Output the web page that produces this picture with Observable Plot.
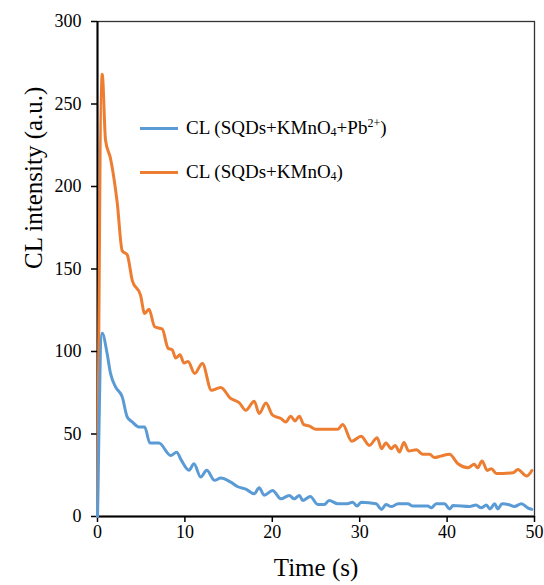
<!DOCTYPE html>
<html>
<head>
<meta charset="utf-8">
<script src="https://cdn.jsdelivr.net/npm/d3@7"></script>
<script src="https://cdn.jsdelivr.net/npm/@observablehq/plot@0.6"></script>
<style>
  html, body { margin: 0; padding: 0; background: #fff; }
  #wrap { position: relative; width: 544px; height: 585px; font-family: "Liberation Serif", "Times New Roman", serif; }
  #wrap svg, #wrap svg text { font-family: "Liberation Serif", "Times New Roman", serif !important; }
  .leg { position: absolute; left: 140px; display: flex; align-items: center; font-size: 19px; color: #000; white-space: nowrap; }
  .leg .sw { width: 38px; height: 3px; margin-right: 8px; }
  .leg sub, .leg sup { font-size: 12px; }
  .leg sub { vertical-align: -2px; }
  .leg sup { vertical-align: 7px; }
</style>
</head>
<body>
<div id="wrap"></div>
<script>
const xTicks = [0, 10, 20, 30, 40, 50];
const yTicks = [0, 50, 100, 150, 200, 250, 300];

const seriesNames = ["CL (SQDs+KMnO4+Pb2+)", "CL (SQDs+KMnO4)"];
const seriesColors = ["#5B9BD5", "#ED7D31"];

const timeBlue = [0, 0.54, 1.1, 1.49, 2.06, 2.83, 3.4, 3.98, 4.74, 5.39, 6.0, 7.03, 8.37, 9.06, 9.6, 10.47, 11.04, 11.8, 12.5, 13.4, 14.1, 15.25, 16.0, 16.97, 17.93, 18.5, 19.07, 20.03, 20.99, 21.94, 22.5, 23.1, 23.47, 24.35, 25.2, 25.95, 26.5, 27.5, 28.6, 29.2, 29.7, 30.16, 31.88, 32.5, 33.0, 33.6, 34.4, 35.5, 36.1, 37.8, 38.2, 38.76, 39.7, 40.3, 40.67, 42.6, 43.3, 43.9, 44.5, 44.9, 45.45, 45.8, 46.3, 47.1, 47.7, 48.5, 49.3, 49.7];
const valueBlue = [0, 111, 98.8, 86.7, 78.6, 72.5, 60.3, 57.3, 54.3, 54.3, 44.5, 44.5, 37, 39, 34, 28, 32, 23.9, 28, 21.9, 23.3, 20.8, 18.2, 16.6, 13.8, 17.4, 12.9, 15.8, 10.7, 12.8, 10.7, 12.8, 9.7, 12.1, 7.3, 7.3, 9.7, 7.7, 7.7, 8.7, 6.3, 8.7, 7.7, 4.3, 7.3, 6.0, 7.7, 7.7, 6.3, 6.3, 5.3, 7.7, 7.7, 4.6, 6.7, 6.1, 6.9, 5.3, 6.9, 4.6, 7.7, 4.6, 7.7, 7.1, 6.1, 7.7, 5.0, 4.3];

const timeOrange = [0, 0.54, 0.92, 1.49, 2.26, 2.83, 3.4, 3.98, 4.93, 5.39, 5.89, 6.54, 7.41, 8.07, 8.56, 8.94, 9.44, 9.9, 10.36, 11.12, 12.0, 13.03, 14.1, 15.25, 15.63, 16.2, 16.97, 17.93, 18.5, 19.27, 20.03, 20.99, 21.56, 22.1, 22.6, 23.09, 23.6, 24.2, 25.0, 27.5, 28.05, 29.1, 30.16, 31.1, 32.0, 32.5, 33.0, 33.6, 34.06, 34.55, 35.06, 35.6, 36.5, 37.2, 38.0, 38.56, 39.25, 40.28, 41.24, 42.4, 43.1, 43.5, 44.0, 44.6, 45.07, 45.64, 47.55, 48.1, 49.1, 49.7];
const valueOrange = [0, 268, 228, 217, 190, 161, 158.6, 143, 134, 123, 125.6, 115, 113.6, 102, 101, 96, 98, 93, 94, 86.7, 92.8, 76.5, 78.2, 71.5, 70.5, 69, 64.4, 69.9, 62.4, 68.8, 61.4, 59.4, 57.3, 60.8, 57.9, 60.8, 55.7, 54.9, 52.9, 52.9, 55.7, 45.6, 48.6, 43.1, 47.8, 41.1, 44.6, 41.1, 43.1, 39.1, 44.8, 39.7, 40.5, 37.7, 37.7, 35.7, 36.6, 37.7, 32.0, 29.6, 31.6, 29.6, 33.6, 27.9, 29.0, 26.0, 26.5, 28.5, 24.5, 27.9];

const blue = timeBlue.map((t, i) => ({t, v: valueBlue[i]}));
const orange = timeOrange.map((t, i) => ({t, v: valueOrange[i]}));

const serif = "Liberation Serif";

const chart = Plot.plot({
  width: 544,
  height: 585,
  marginLeft: 97,
  marginRight: 10,
  marginTop: 21,
  marginBottom: 69,
  style: {fontFamily: serif, fontSize: "18px", color: "#000", background: "#fff"},
  x: {domain: [0, 50], ticks: xTicks},
  y: {domain: [0, 300], ticks: yTicks},
  marks: [
    Plot.frame({stroke: "#333", strokeWidth: 1.3}),
    Plot.ruleX([0], {stroke: "#000", strokeWidth: 2}),
    Plot.ruleY([0], {stroke: "#000", strokeWidth: 2}),
    Plot.axisX({ticks: xTicks, tickSize: 6, text: null, label: null, strokeWidth: 1.5}),
    Plot.axisY({ticks: yTicks, tickSize: 6, text: null, label: null, strokeWidth: 1.5}),
    Plot.text(xTicks, {x: d => d, frameAnchor: "bottom", dy: 21, fontSize: 18, fontFamily: serif, fill: "#000"}),
    Plot.text(yTicks, {y: d => d, frameAnchor: "left", dx: -16, textAnchor: "end", fontSize: 18, fontFamily: serif, fill: "#000"}),
    Plot.line(orange, {x: "t", y: "v", stroke: seriesColors[1], strokeWidth: 3, curve: "monotone-x"}),
    Plot.line(blue, {x: "t", y: "v", stroke: seriesColors[0], strokeWidth: 3, curve: "monotone-x"}),
    Plot.text(["CL intensity (a.u.)"], {frameAnchor: "left", rotate: -90, dx: -64, fontSize: 25, fontFamily: serif}),
    Plot.text(["Time (s)"], {frameAnchor: "bottom", dy: 59, fontSize: 25, fontFamily: serif})
  ]
});

const wrap = document.getElementById("wrap");
wrap.appendChild(chart);

const legendRows = [
  {html: "CL (SQDs+KMnO<sub>4</sub>+Pb<sup>2+</sup>)", color: seriesColors[0], top: 128},
  {html: "CL (SQDs+KMnO<sub>4</sub>)", color: seriesColors[1], top: 172}
];
legendRows.forEach(r => {
  const d = document.createElement("div");
  d.className = "leg";
  d.style.top = (r.top - 12) + "px";
  d.style.height = "24px";
  d.innerHTML = `<span class="sw" style="background:${r.color}"></span><span>${r.html}</span>`;
  wrap.appendChild(d);
});
</script>
</body>
</html>
